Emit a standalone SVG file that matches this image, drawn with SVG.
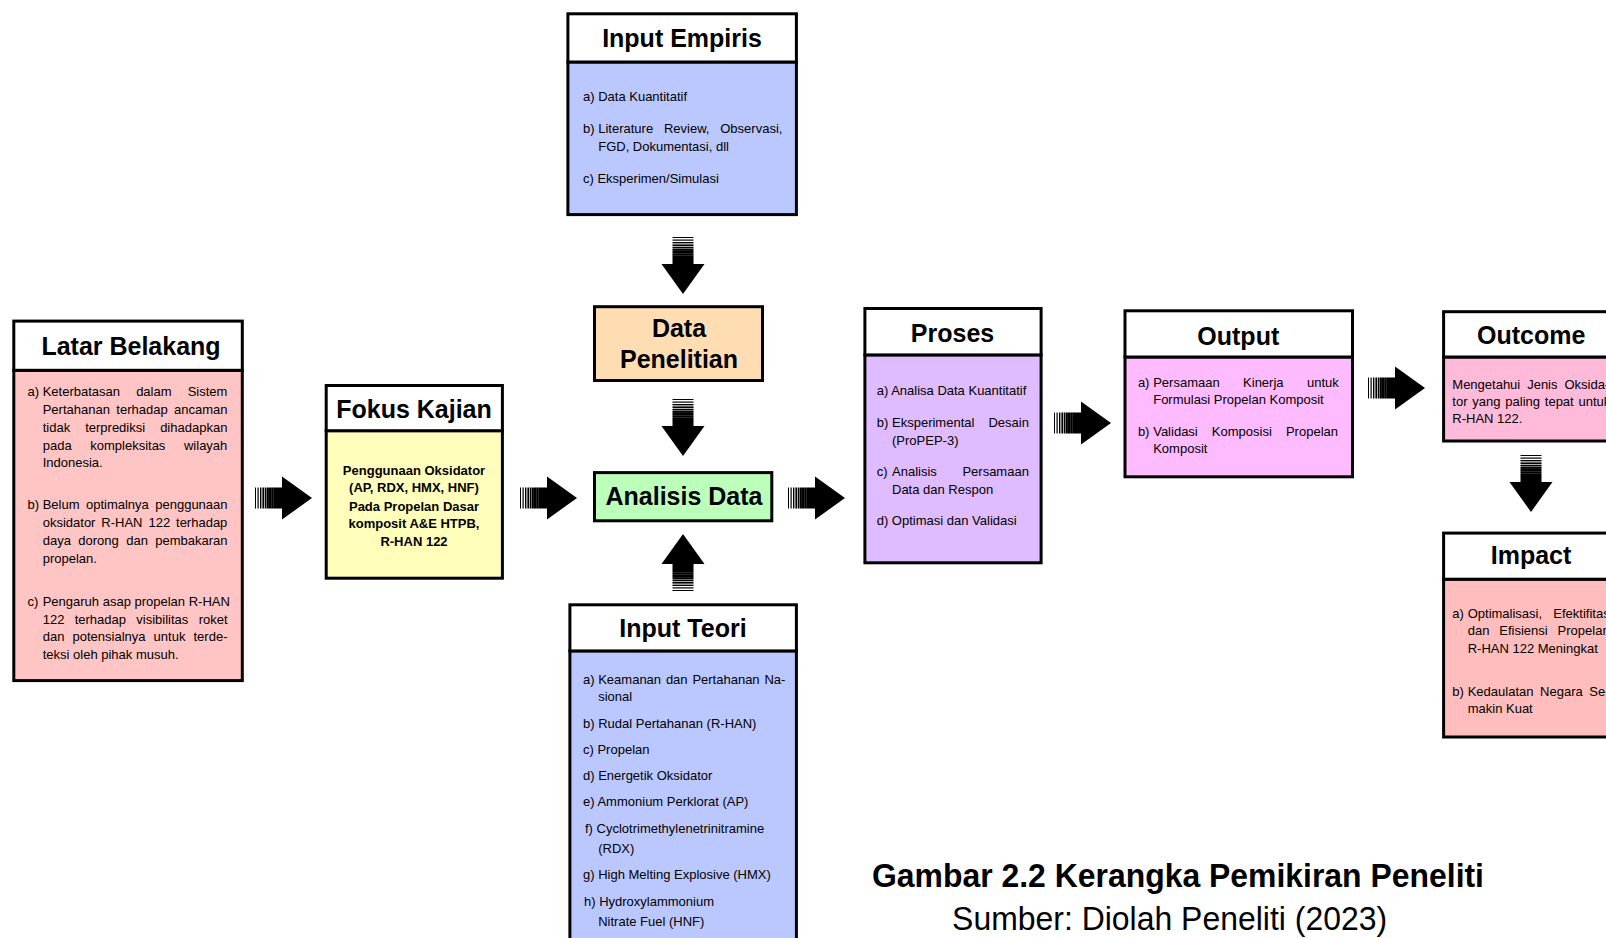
<svg xmlns="http://www.w3.org/2000/svg" width="1606" height="938" viewBox="0 0 1606 938">
<style>
.bx{stroke:#000;stroke-width:3}
.hd{fill:#fff}
.h{font-family:"Liberation Sans",Arial,sans-serif;font-weight:bold;font-size:25px;text-anchor:middle;fill:#000}
.t{font-family:"Liberation Sans",Arial,sans-serif;font-size:13px;fill:#000}
.tb{font-family:"Liberation Sans",Arial,sans-serif;font-size:13px;font-weight:bold;text-anchor:middle;fill:#000}
.cap{font-family:"Liberation Sans",Arial,sans-serif;font-size:33px;text-anchor:middle;fill:#000}
</style>
<defs>
<g id="arr">
<rect x="0" y="-10.5" width="1" height="21"/>
<rect x="2.5" y="-10.5" width="1.2" height="21"/>
<rect x="5" y="-10.5" width="1.4" height="21"/>
<rect x="7.4" y="-10.5" width="1.6" height="21"/>
<rect x="9.7" y="-10.5" width="1.8" height="21"/>
<rect x="11.9" y="-10.5" width="2" height="21"/>
<rect x="14" y="-10.5" width="2.2" height="21"/>
<rect x="16.2" y="-10.5" width="2.4" height="21"/>
<rect x="18.4" y="-10.5" width="10" height="21"/>
<polygon points="27,-21.5 57,0 27,21.5"/>
</g>
</defs>
<rect width="1606" height="938" fill="#fff"/>

<g id="connectors">
<use href="#arr" transform="translate(255,498)"/>
<use href="#arr" transform="translate(520,498)"/>
<use href="#arr" transform="translate(788,498)"/>
<use href="#arr" transform="translate(1054,423)"/>
<use href="#arr" transform="translate(1368,388)"/>
<use href="#arr" transform="translate(683,237) rotate(90)"/>
<use href="#arr" transform="translate(683,399) rotate(90)"/>
<use href="#arr" transform="translate(683,591) rotate(-90)"/>
<use href="#arr" transform="translate(1531,455) rotate(90)"/>
</g>

<g id="latar-belakang">
<rect class="bx" x="13.8" y="370.3" width="228.5" height="310.3" fill="#FFC4C4"/>
<rect class="bx hd" x="13.8" y="321.1" width="228.5" height="49.2"/>
<text class="h" x="131" y="355">Latar Belakang</text>
<text class="t" x="27.5" y="396">a)</text>
<text class="t" x="42.7" y="396" style="word-spacing:12.5px">Keterbatasan dalam Sistem</text>
<text class="t" x="42.7" y="414" style="word-spacing:2.8px">Pertahanan terhadap ancaman</text>
<text class="t" x="42.7" y="432" style="word-spacing:11.4px">tidak terprediksi dihadapkan</text>
<text class="t" x="42.7" y="450" style="word-spacing:15px">pada kompleksitas wilayah</text>
<text class="t" x="42.7" y="467">Indonesia.</text>
<text class="t" x="27.5" y="509">b)</text>
<text class="t" x="42.7" y="509" style="word-spacing:2.8px">Belum optimalnya penggunaan</text>
<text class="t" x="42.7" y="527" style="word-spacing:2.3px">oksidator R-HAN 122 terhadap</text>
<text class="t" x="42.7" y="545" style="word-spacing:3.8px">daya dorong dan pembakaran</text>
<text class="t" x="42.7" y="563">propelan.</text>
<text class="t" x="27.5" y="606">c)</text>
<text class="t" x="42.7" y="606">Pengaruh asap propelan R-HAN</text>
<text class="t" x="42.7" y="623.5" style="word-spacing:6.7px">122 terhadap visibilitas roket</text>
<text class="t" x="42.7" y="641" style="word-spacing:4.5px">dan potensialnya untuk terde-</text>
<text class="t" x="42.7" y="659">teksi oleh pihak musuh.</text>
</g>

<g id="fokus-kajian">
<rect class="bx" x="326.2" y="430.7" width="176.2" height="147.5" fill="#FFFFBB"/>
<rect class="bx hd" x="326.2" y="385.5" width="176.2" height="45.2"/>
<text class="h" x="414" y="417.7">Fokus Kajian</text>
<text class="tb" x="414" y="474.6">Penggunaan Oksidator</text>
<text class="tb" x="414" y="492">(AP, RDX, HMX, HNF)</text>
<text class="tb" x="414" y="510.5">Pada Propelan Dasar</text>
<text class="tb" x="414" y="528">komposit A&amp;E HTPB,</text>
<text class="tb" x="414" y="546.3">R-HAN 122</text>
</g>

<g id="input-empiris">
<rect class="bx" x="567.9" y="62" width="228.5" height="152.6" fill="#BBC8FF"/>
<rect class="bx hd" x="567.9" y="13.8" width="228.5" height="48.2"/>
<text class="h" x="682" y="47">Input Empiris</text>
<text class="t" x="583" y="100.8">a) Data Kuantitatif</text>
<text class="t" x="583" y="132.5">b)</text>
<text class="t" x="598.2" y="132.5" style="word-spacing:7.2px">Literature Review, Observasi,</text>
<text class="t" x="598.2" y="151">FGD, Dokumentasi, dll</text>
<text class="t" x="583" y="182.7">c) Eksperimen/Simulasi</text>
</g>

<g id="data-penelitian">
<rect class="bx" x="594.5" y="306.7" width="168" height="73.8" fill="#FFDDB3"/>
<text class="h" x="679" y="336.7">Data</text>
<text class="h" x="679" y="367.5">Penelitian</text>
</g>

<g id="analisis-data">
<rect class="bx" x="594.5" y="472.6" width="177.3" height="48.2" fill="#BBFFBB"/>
<text class="h" x="684" y="504.7">Analisis Data</text>
</g>

<g id="input-teori">
<rect class="bx" x="569.9" y="650.9" width="226.5" height="300" fill="#BBC8FF"/>
<rect class="bx hd" x="569.9" y="604.8" width="226.5" height="46.1"/>
<text class="h" x="683" y="637">Input Teori</text>
<text class="t" x="583" y="683.5">a)</text>
<text class="t" x="598.2" y="683.5" style="word-spacing:1.2px">Keamanan dan Pertahanan Na-</text>
<text class="t" x="598.2" y="701">sional</text>
<text class="t" x="583" y="727.6">b) Rudal Pertahanan (R-HAN)</text>
<text class="t" x="583" y="754.2">c) Propelan</text>
<text class="t" x="583" y="779.8">d) Energetik Oksidator</text>
<text class="t" x="583" y="806.4">e) Ammonium Perklorat (AP)</text>
<text class="t" x="585" y="833.1">f) Cyclotrimethylenetrinitramine</text>
<text class="t" x="598.2" y="852.5">(RDX)</text>
<text class="t" x="583" y="879.2">g) High Melting Explosive (HMX)</text>
<text class="t" x="584" y="905.8">h) Hydroxylammonium</text>
<text class="t" x="598.2" y="926.3">Nitrate Fuel (HNF)</text>
</g>

<g id="proses">
<rect class="bx" x="864.9" y="354.9" width="176.2" height="207.9" fill="#DFBBFF"/>
<rect class="bx hd" x="864.9" y="308.5" width="176.2" height="46.4"/>
<text class="h" x="952.5" y="342">Proses</text>
<text class="t" x="876.7" y="394.7">a) Analisa Data Kuantitatif</text>
<text class="t" x="876.7" y="426.5">b)</text>
<text class="t" x="892" y="426.5" style="word-spacing:10.5px">Eksperimental Desain</text>
<text class="t" x="892" y="444.9">(ProPEP-3)</text>
<text class="t" x="876.7" y="475.6">c)</text>
<text class="t" x="892" y="475.6" style="word-spacing:22px">Analisis Persamaan</text>
<text class="t" x="892" y="494">Data dan Respon</text>
<text class="t" x="876.7" y="524.8">d) Optimasi dan Validasi</text>
</g>

<g id="output">
<rect class="bx" x="1125" y="357" width="227.5" height="119.8" fill="#FFBBFF"/>
<rect class="bx hd" x="1125" y="310.8" width="227.5" height="46.2"/>
<text class="h" x="1238.3" y="345">Output</text>
<text class="t" x="1137.9" y="386.5">a)</text>
<text class="t" x="1153.2" y="386.5" style="word-spacing:19.8px">Persamaan Kinerja untuk</text>
<text class="t" x="1153.2" y="404">Formulasi Propelan Komposit</text>
<text class="t" x="1137.9" y="435.7">b)</text>
<text class="t" x="1153.2" y="435.7" style="word-spacing:10.5px">Validasi Komposisi Propelan</text>
<text class="t" x="1153.2" y="453.1">Komposit</text>
</g>

<g id="outcome">
<rect class="bx" x="1443.6" y="357" width="180" height="84" fill="#FFBAD9"/>
<rect class="bx hd" x="1443.6" y="311.7" width="180" height="45.3"/>
<text class="h" x="1531.2" y="344">Outcome</text>
<text class="t" x="1452.3" y="388.6" style="word-spacing:3.3px">Mengetahui Jenis Oksida-</text>
<text class="t" x="1452.3" y="406" style="word-spacing:1.2px">tor yang paling tepat untuk</text>
<text class="t" x="1452.3" y="423.4">R-HAN 122.</text>
</g>

<g id="impact">
<rect class="bx" x="1443.6" y="579.2" width="180" height="157.8" fill="#FFBDBD"/>
<rect class="bx hd" x="1443.6" y="533.1" width="180" height="46.1"/>
<text class="h" x="1531" y="564">Impact</text>
<text class="t" x="1452.3" y="618">a)</text>
<text class="t" x="1467.7" y="618" style="word-spacing:7.6px">Optimalisasi, Efektifitas</text>
<text class="t" x="1467.7" y="635.4" style="word-spacing:6.3px">dan Efisiensi Propelan</text>
<text class="t" x="1467.7" y="652.8">R-HAN 122 Meningkat</text>
<text class="t" x="1452.3" y="695.8">b)</text>
<text class="t" x="1467.7" y="695.8" style="word-spacing:3px">Kedaulatan Negara Se-</text>
<text class="t" x="1467.7" y="713.2">makin Kuat</text>
</g>

<g id="caption">
<text class="cap" x="1178" y="887" font-weight="bold" textLength="612" lengthAdjust="spacingAndGlyphs">Gambar 2.2 Kerangka Pemikiran Peneliti</text>
<text class="cap" x="1169.6" y="930" textLength="435" lengthAdjust="spacingAndGlyphs">Sumber: Diolah Peneliti (2023)</text>
</g>
</svg>
